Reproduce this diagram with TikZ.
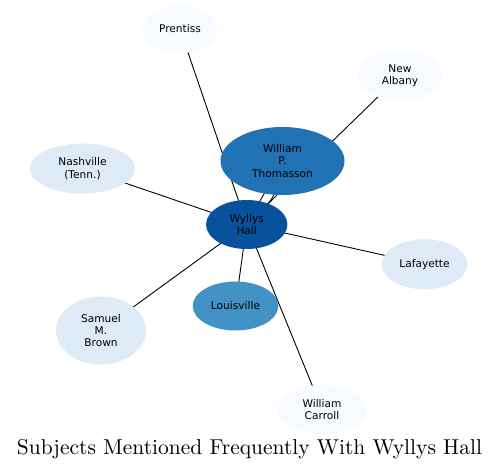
\documentclass[tikz,border=0pt]{standalone}
\usepackage{fontspec}
\newfontfamily\labelfont{DejaVu Sans}
\usetikzlibrary{shapes.geometric,backgrounds}
\definecolor{cHub}{HTML}{08519C}
\definecolor{cBig}{HTML}{2171B5}
\definecolor{cMid}{HTML}{4292C6}
\definecolor{cLight}{HTML}{DEEBF7}
\definecolor{cPale}{HTML}{F7FBFF}
\begin{document}
\begin{tikzpicture}[x=1pt,y=-1pt,
  ent/.style={ellipse, inner sep=0pt, align=center,
    font=\labelfont\fontsize{10.6}{12.4}\selectfont, text=black},
  edge/.style={draw=black, line width=0.9pt}]
\useasboundingbox (0,0) rectangle (499,470);
\node[ent, fill=cHub,   minimum width=81.4pt, minimum height=49pt] (w)  at (246.7,224.5) {Wyllys\\Hall};
\node[ent, fill=cBig,   minimum width=124pt,  minimum height=68pt] (t)  at (282.5,161)   {William\\P.\\Thomasson};
\node[ent, fill=cMid,   minimum width=85.6pt, minimum height=49pt] (lo) at (235.5,306)   {Louisville};
\node[ent, fill=cLight, minimum width=105pt,  minimum height=50pt] (na) at (82.5,168.5)  {Nashville\\(Tenn.)};
\node[ent, fill=cLight, minimum width=90pt,   minimum height=68pt] (sb) at (101,330.5)   {Samuel\\M.\\Brown};
\node[ent, fill=cLight, minimum width=85.6pt, minimum height=50pt] (la) at (424.5,264.3) {Lafayette};
\node[ent, fill=cPale,  minimum width=74.6pt, minimum height=48pt] (pr) at (180,29)      {Prentiss};
\node[ent, fill=cPale,  minimum width=85.4pt, minimum height=50pt] (ne) at (400,75.5)    {New\\Albany};
\node[ent, fill=cPale,  minimum width=89.4pt, minimum height=49pt] (wc) at (322,409.5)   {William\\Carroll};
\coordinate (bendctl) at (275.4,198.5);
\begin{pgfonlayer}{background}
\draw[edge] (w.center) -- (t.center);
\draw[edge] (w.center) .. controls (bendctl) .. (t.center);
\draw[edge] (w.center) -- (pr.center);
\draw[edge] (w.center) -- (ne.center);
\draw[edge] (w.center) -- (na.center);
\draw[edge] (w.center) -- (la.center);
\draw[edge] (w.center) -- (sb.center);
\draw[edge] (w.center) -- (lo.center);
\draw[edge] (w.center) -- (wc.center);
\end{pgfonlayer}
\node[anchor=base, inner sep=0pt] (title) at (249.5,455) {\resizebox{465pt}{!}{Subjects Mentioned Frequently With Wyllys Hall}};
\end{tikzpicture}
\end{document}
